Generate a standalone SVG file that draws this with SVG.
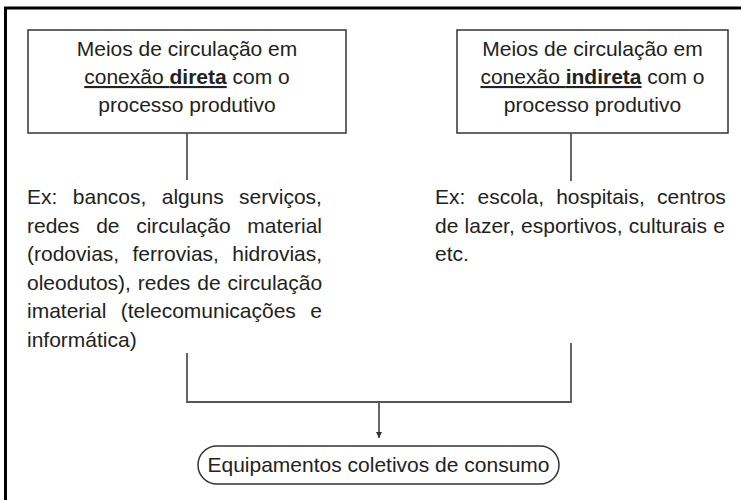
<svg xmlns="http://www.w3.org/2000/svg" width="741" height="500" viewBox="0 0 741 500">
<style>
text{font-family:"Liberation Sans",Arial,sans-serif;font-size:21px;fill:#222}
.c{text-anchor:middle}
.box{fill:#fff;stroke:#333;stroke-width:1.5}
.ln{fill:none;stroke:#555;stroke-width:1.8}
.u{text-decoration:underline}
.b{font-weight:bold}
</style>
<defs>
<marker id="ah" markerWidth="8" markerHeight="8" refX="6" refY="4" orient="auto" markerUnits="userSpaceOnUse">
<path d="M0,1 L6,4 L0,7 Z" fill="#333"/>
</marker>
</defs>
<rect x="0" y="0" width="741" height="500" fill="#fff"/>
<path d="M5.5,500 V8 H741" fill="none" stroke="#000" stroke-width="3"/>

<g id="direta">
<rect class="box" x="28" y="30" width="318" height="103"/>
<text class="c" x="187" y="56">Meios de circulação em</text>
<text class="c" x="187" y="84"><tspan class="u">conexão <tspan class="b">direta</tspan></tspan> com o</text>
<text class="c" x="187" y="112">processo produtivo</text>
</g>

<g id="indireta">
<rect class="box" x="457" y="30" width="271" height="103"/>
<text class="c" x="592.5" y="56">Meios de circulação em</text>
<text class="c" x="592.5" y="84"><tspan class="u">conexão <tspan class="b">indireta</tspan></tspan> com o</text>
<text class="c" x="592.5" y="112">processo produtivo</text>
</g>

<g id="ex-direta">
<text x="27" y="204" word-spacing="9.6">Ex: bancos, alguns serviços,</text>
<text x="27" y="232.6" word-spacing="10.8">redes de circulação material</text>
<text x="27" y="261.2" word-spacing="7.5">(rodovias, ferrovias, hidrovias,</text>
<text x="27" y="289.8" word-spacing="1.1">oleodutos), redes de circulação</text>
<text x="27" y="318.4" word-spacing="8.6">imaterial (telecomunicações e</text>
<text x="27" y="347">informática)</text>
</g>

<g id="ex-indireta">
<text x="435" y="204" word-spacing="6.3">Ex: escola, hospitais, centros</text>
<text x="435" y="232.6" word-spacing="0.4">de lazer, esportivos, culturais e</text>
<text x="435" y="261.2">etc.</text>
</g>

<g id="consumo">
<rect class="box" x="198" y="446" width="361" height="38" rx="19" ry="19"/>
<text class="c" x="378.5" y="472">Equipamentos coletivos de consumo</text>
</g>

<g id="connectors">
<line class="ln" x1="187" y1="133" x2="187" y2="180"/>
<line class="ln" x1="571" y1="133" x2="571" y2="181"/>
<polyline class="ln" points="187,353 187,402 571,402 571,343"/>
<line class="ln" x1="379" y1="402" x2="379" y2="438" marker-end="url(#ah)"/>
</g>
</svg>
